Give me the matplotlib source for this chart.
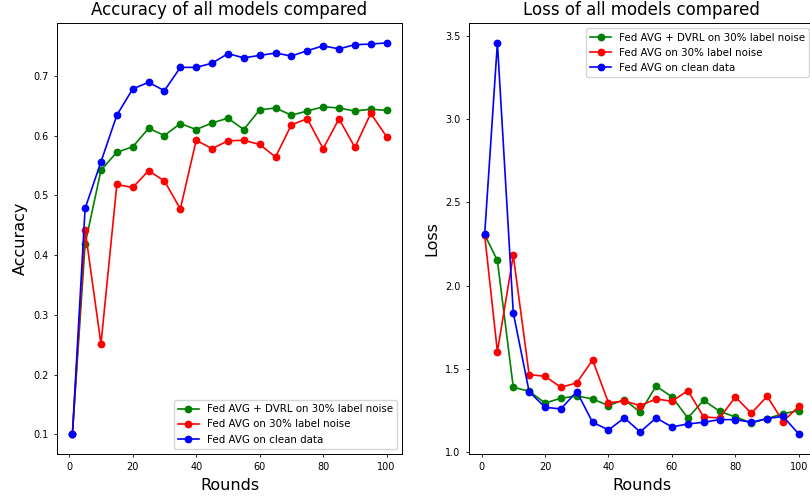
import matplotlib
matplotlib.use("Agg")
import matplotlib.pyplot as plt

rounds = [1, 5, 10, 15, 20, 25, 30, 35, 40, 45, 50, 55, 60, 65, 70, 75, 80, 85, 90, 95, 100]

acc_dvrl = [0.100, 0.418, 0.542, 0.572, 0.581, 0.612, 0.600, 0.620, 0.610, 0.621, 0.629,
            0.610, 0.643, 0.646, 0.634, 0.641, 0.648, 0.646, 0.641, 0.644, 0.642]
acc_noise = [0.100, 0.442, 0.251, 0.518, 0.513, 0.541, 0.524, 0.477, 0.592, 0.578, 0.591,
             0.592, 0.585, 0.564, 0.618, 0.628, 0.578, 0.628, 0.580, 0.637, 0.598]
acc_clean = [0.100, 0.478, 0.556, 0.634, 0.678, 0.689, 0.675, 0.714, 0.714, 0.721, 0.737,
             0.730, 0.734, 0.738, 0.733, 0.742, 0.750, 0.745, 0.752, 0.753, 0.755]

loss_dvrl = [2.305, 2.151, 1.390, 1.366, 1.296, 1.324, 1.338, 1.320, 1.280, 1.316, 1.240,
             1.398, 1.332, 1.206, 1.312, 1.246, 1.212, 1.176, 1.202, 1.232, 1.250]
loss_noise = [2.302, 1.604, 2.182, 1.466, 1.456, 1.390, 1.416, 1.554, 1.296, 1.308, 1.280,
              1.320, 1.306, 1.370, 1.212, 1.206, 1.332, 1.234, 1.336, 1.184, 1.276]
loss_clean = [2.310, 3.457, 1.838, 1.364, 1.270, 1.260, 1.364, 1.180, 1.134, 1.206, 1.122,
              1.206, 1.152, 1.170, 1.180, 1.196, 1.196, 1.180, 1.202, 1.216, 1.108]

labels = ["Fed AVG + DVRL on 30% label noise", "Fed AVG on 30% label noise", "Fed AVG on clean data"]
colors = ["green", "red", "blue"]

fig = plt.figure(figsize=(8.1, 4.96), dpi=100)
ax1 = fig.add_axes([0.070, 0.085, 0.4267, 0.868])
ax2 = fig.add_axes([0.579, 0.085, 0.4267, 0.868])

for ax, series, title, ylabel, loc in [
    (ax1, [acc_dvrl, acc_noise, acc_clean], "Accuracy of all models compared", "Accuracy", "lower right"),
    (ax2, [loss_dvrl, loss_noise, loss_clean], "Loss of all models compared", "Loss", "upper right"),
]:
    for vals, lab, c in zip(series, labels, colors):
        ax.plot(rounds, vals, "o-", color=c, label=lab, markersize=4.6, linewidth=1.2)
    ax.set_title(title, fontsize=12)
    ax.set_xlabel("Rounds", fontsize=11.5)
    ax.set_ylabel(ylabel, fontsize=11.5)
    ax.tick_params(labelsize=7, length=2.5, width=0.6)
    for s in ax.spines.values():
        s.set_linewidth(0.7)
    ax.legend(loc=loc, fontsize=7.4)

fig.savefig("out.png", dpi=100)
